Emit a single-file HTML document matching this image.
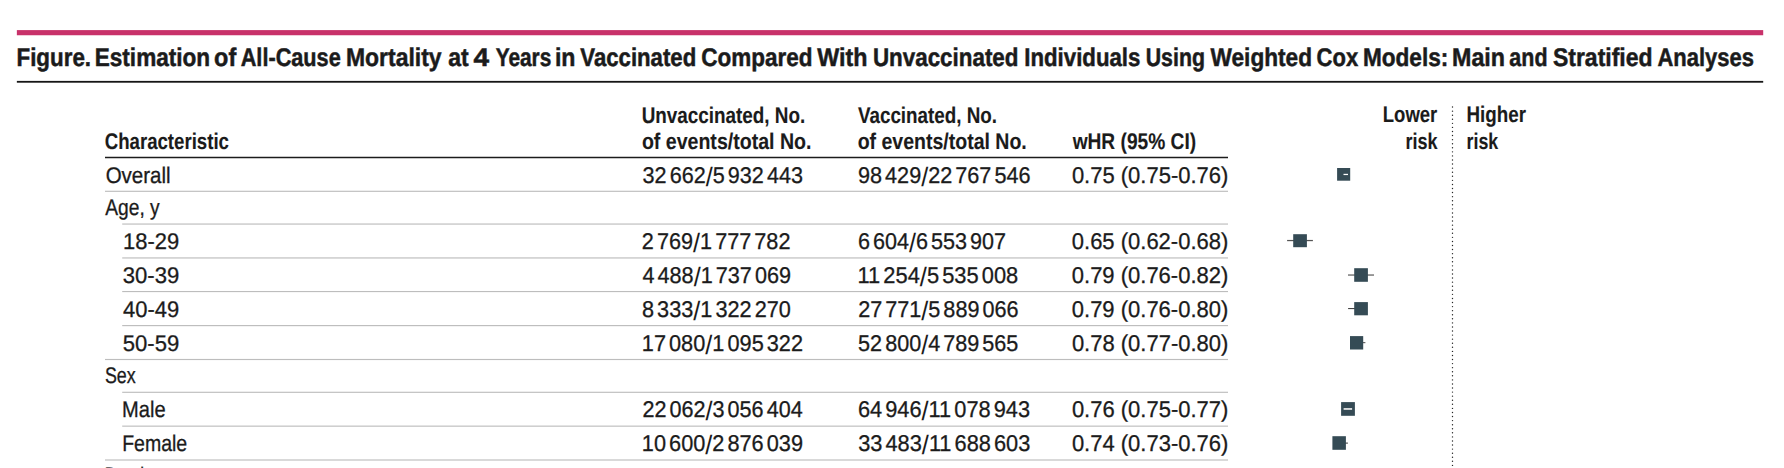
<!DOCTYPE html>
<html lang="en"><head><meta charset="utf-8"><title>Figure</title>
<style>
html,body{margin:0;padding:0;background:#fff}
body{width:1784px;height:468px;overflow:hidden}
svg{display:block}
text{font-family:"Liberation Sans",Arial,Helvetica,sans-serif;fill:#1b1b1b;white-space:pre;text-rendering:geometricPrecision}
.b{font-weight:bold;stroke:#1b1b1b;stroke-width:0.5px}
.r{stroke:#1b1b1b;stroke-width:0.3px}
.h{font-weight:bold;stroke:#1b1b1b;stroke-width:0.12px}
</style></head>
<body>
<svg width="1784" height="468" viewBox="0 0 1784 468">
<rect width="1784" height="468" fill="#fff"/>
<rect x="16.85" y="30.1" width="1746.35" height="5.15" fill="#c8316a"/>
<rect x="16.85" y="80.9" width="1746.35" height="1.8" fill="#161616"/>
<rect x="105" y="156.75" width="1123" height="1.5" fill="#1c1c1c"/>
<rect x="105" y="190.725" width="1123" height="1.15" fill="#bdbdbd"/>
<rect x="122.2" y="223.475" width="1105.8" height="1.15" fill="#bdbdbd"/>
<rect x="122.2" y="257.375" width="1105.8" height="1.15" fill="#bdbdbd"/>
<rect x="122.2" y="290.975" width="1105.8" height="1.15" fill="#bdbdbd"/>
<rect x="122.2" y="325.025" width="1105.8" height="1.15" fill="#bdbdbd"/>
<rect x="105" y="358.925" width="1123" height="1.15" fill="#bdbdbd"/>
<rect x="122.2" y="391.725" width="1105.8" height="1.15" fill="#bdbdbd"/>
<rect x="122.2" y="425.575" width="1105.8" height="1.15" fill="#bdbdbd"/>
<rect x="105" y="459.425" width="1123" height="1.15" fill="#bdbdbd"/>
<line x1="1452.5" y1="107.05" x2="1452.5" y2="470" stroke="#262626" stroke-width="1.4" stroke-linecap="round" stroke-dasharray="0.01 4.062"/>
<rect x="1337.1" y="168" width="13.1" height="12.7" fill="#354b55"/>
<rect x="1343.5" y="173.825" width="4.5" height="1.25" fill="#fff"/>
<rect x="1287.1" y="239.925" width="25.8" height="1.25" fill="#555"/>
<rect x="1293.2" y="234.2" width="13.7" height="13" fill="#354b55"/>
<rect x="1348" y="274.2" width="26" height="1.7" fill="#8a8a8a"/>
<rect x="1354.2" y="268.2" width="13.7" height="13.6" fill="#354b55"/>
<rect x="1348.1" y="308" width="7.9" height="1.1" fill="#444"/>
<rect x="1354.2" y="302.1" width="13.7" height="13.2" fill="#354b55"/>
<rect x="1362" y="342" width="3.4" height="1.2" fill="#666"/>
<rect x="1350" y="336.1" width="13.2" height="13.4" fill="#354b55"/>
<rect x="1341.1" y="402.1" width="13.8" height="13.7" fill="#354b55"/>
<rect x="1343.6" y="408" width="8.5" height="1.9" fill="#d9dcdd"/>
<rect x="1345" y="442.4" width="2.9" height="1.5" fill="#777"/>
<rect x="1332.4" y="436.2" width="13.5" height="13.6" fill="#354b55"/>
<text class="b" x="16.50" y="66" font-size="25.5" textLength="74.54" lengthAdjust="spacingAndGlyphs">Figure.</text>
<text class="b" x="94.74" y="66" font-size="25.5" textLength="115.41" lengthAdjust="spacingAndGlyphs">Estimation</text>
<text class="b" x="214.08" y="66" font-size="25.5" textLength="22.12" lengthAdjust="spacingAndGlyphs">of</text>
<text class="b" x="240.71" y="66" font-size="25.5" textLength="100.03" lengthAdjust="spacingAndGlyphs">All-Cause</text>
<text class="b" x="345.97" y="66" font-size="25.5" textLength="95.56" lengthAdjust="spacingAndGlyphs">Mortality</text>
<text class="b" x="448.33" y="66" font-size="25.5" textLength="20.45" lengthAdjust="spacingAndGlyphs">at</text>
<text class="b" x="473.58" y="66" font-size="25.5" textLength="15.57" lengthAdjust="spacingAndGlyphs">4</text>
<text class="b" x="495.64" y="66" font-size="25.5" textLength="55.71" lengthAdjust="spacingAndGlyphs">Years</text>
<text class="b" x="554.89" y="66" font-size="25.5" textLength="20.55" lengthAdjust="spacingAndGlyphs">in</text>
<text class="b" x="580.35" y="66" font-size="25.5" textLength="115.86" lengthAdjust="spacingAndGlyphs">Vaccinated</text>
<text class="b" x="701.33" y="66" font-size="25.5" textLength="111.15" lengthAdjust="spacingAndGlyphs">Compared</text>
<text class="b" x="817.23" y="66" font-size="25.5" textLength="50.22" lengthAdjust="spacingAndGlyphs">With</text>
<text class="b" x="872.91" y="66" font-size="25.5" textLength="145.57" lengthAdjust="spacingAndGlyphs">Unvaccinated</text>
<text class="b" x="1024.26" y="66" font-size="25.5" textLength="116.15" lengthAdjust="spacingAndGlyphs">Individuals</text>
<text class="b" x="1145.72" y="66" font-size="25.5" textLength="59.21" lengthAdjust="spacingAndGlyphs">Using</text>
<text class="b" x="1210.58" y="66" font-size="25.5" textLength="101.41" lengthAdjust="spacingAndGlyphs">Weighted</text>
<text class="b" x="1316.60" y="66" font-size="25.5" textLength="41.56" lengthAdjust="spacingAndGlyphs">Cox</text>
<text class="b" x="1362.89" y="66" font-size="25.5" textLength="85.39" lengthAdjust="spacingAndGlyphs">Models:</text>
<text class="b" x="1452.04" y="66" font-size="25.5" textLength="53.00" lengthAdjust="spacingAndGlyphs">Main</text>
<text class="b" x="1509.37" y="66" font-size="25.5" textLength="38.14" lengthAdjust="spacingAndGlyphs">and</text>
<text class="b" x="1552.94" y="66" font-size="25.5" textLength="99.58" lengthAdjust="spacingAndGlyphs">Stratified</text>
<text class="b" x="1657.45" y="66" font-size="25.5" textLength="96.45" lengthAdjust="spacingAndGlyphs">Analyses</text>
<text id="h1" class="h" x="104.68" y="149.00" font-size="22.7" textLength="124.31" lengthAdjust="spacingAndGlyphs">Characteristic</text>
<text id="h2a" class="h" x="641.66" y="123.00" font-size="22.7" textLength="163.58" lengthAdjust="spacingAndGlyphs">Unvaccinated, No.</text>
<text id="h2b" class="h" x="641.92" y="149.00" font-size="22.7" textLength="169.50" lengthAdjust="spacingAndGlyphs">of events/total No.</text>
<text id="h3a" class="h" x="857.98" y="123.00" font-size="22.7" textLength="139.00" lengthAdjust="spacingAndGlyphs">Vaccinated, No.</text>
<text id="h3b" class="h" x="857.67" y="149.00" font-size="22.7" textLength="169.12" lengthAdjust="spacingAndGlyphs">of events/total No.</text>
<text id="h4" class="h" x="1072.64" y="149.00" font-size="22.7" textLength="123.53" lengthAdjust="spacingAndGlyphs">wHR (95% CI)</text>
<text id="lo1" class="h" x="1382.79" y="122.00" font-size="22.7" textLength="54.51" lengthAdjust="spacingAndGlyphs">Lower</text>
<text id="lo2" class="h" x="1405.49" y="149.00" font-size="22.7" textLength="32.00" lengthAdjust="spacingAndGlyphs">risk</text>
<text id="hi1" class="h" x="1466.49" y="122.00" font-size="22.7" textLength="59.48" lengthAdjust="spacingAndGlyphs">Higher</text>
<text id="hi2" class="h" x="1466.62" y="149.00" font-size="22.7" textLength="31.61" lengthAdjust="spacingAndGlyphs">risk</text>
<text id="r0a" class="r" x="105.66" y="183.00" font-size="22.6" textLength="65.00" lengthAdjust="spacingAndGlyphs">Overall</text>
<text id="r0b" class="r" x="642.62" y="183.00" font-size="22.8" textLength="160.31" lengthAdjust="spacingAndGlyphs">32<tspan font-size="11.5"> </tspan>662<tspan font-size="26.5" dy="2.7" stroke-width="0">/</tspan><tspan dy="-2.7">5<tspan font-size="11.5"> </tspan>932<tspan font-size="11.5"> </tspan>443</tspan></text>
<text id="r0c" class="r" x="858.00" y="183.00" font-size="22.8" textLength="172.53" lengthAdjust="spacingAndGlyphs">98<tspan font-size="11.5"> </tspan>429<tspan font-size="26.5" dy="2.7" stroke-width="0">/</tspan><tspan dy="-2.7">22<tspan font-size="11.5"> </tspan>767<tspan font-size="11.5"> </tspan>546</tspan></text>
<text id="r0d" class="r" x="1071.88" y="183.00" font-size="22.8" textLength="156.44" lengthAdjust="spacingAndGlyphs">0.75 (0.75-0.76)</text>
<text id="r1a" class="r" x="105.28" y="215.00" font-size="22.6" textLength="54.43" lengthAdjust="spacingAndGlyphs">Age, y</text>
<text id="r2a" class="r" x="123.04" y="249.00" font-size="22.6" textLength="56.10" lengthAdjust="spacingAndGlyphs">18-29</text>
<text id="r2b" class="r" x="641.87" y="249.00" font-size="22.8" textLength="148.58" lengthAdjust="spacingAndGlyphs">2<tspan font-size="11.5"> </tspan>769<tspan font-size="26.5" dy="2.7" stroke-width="0">/</tspan><tspan dy="-2.7">1<tspan font-size="11.5"> </tspan>777<tspan font-size="11.5"> </tspan>782</tspan></text>
<text id="r2c" class="r" x="857.97" y="249.00" font-size="22.8" textLength="148.11" lengthAdjust="spacingAndGlyphs">6<tspan font-size="11.5"> </tspan>604<tspan font-size="26.5" dy="2.7" stroke-width="0">/</tspan><tspan dy="-2.7">6<tspan font-size="11.5"> </tspan>553<tspan font-size="11.5"> </tspan>907</tspan></text>
<text id="r2d" class="r" x="1071.81" y="249.00" font-size="22.8" textLength="156.50" lengthAdjust="spacingAndGlyphs">0.65 (0.62-0.68)</text>
<text id="r3a" class="r" x="122.78" y="283.00" font-size="22.6" textLength="56.52" lengthAdjust="spacingAndGlyphs">30-39</text>
<text id="r3b" class="r" x="642.49" y="283.00" font-size="22.8" textLength="148.50" lengthAdjust="spacingAndGlyphs">4<tspan font-size="11.5"> </tspan>488<tspan font-size="26.5" dy="2.7" stroke-width="0">/</tspan><tspan dy="-2.7">1<tspan font-size="11.5"> </tspan>737<tspan font-size="11.5"> </tspan>069</tspan></text>
<text id="r3c" class="r" x="857.54" y="283.00" font-size="22.8" textLength="160.69" lengthAdjust="spacingAndGlyphs">11<tspan font-size="11.5"> </tspan>254<tspan font-size="26.5" dy="2.7" stroke-width="0">/</tspan><tspan dy="-2.7">5<tspan font-size="11.5"> </tspan>535<tspan font-size="11.5"> </tspan>008</tspan></text>
<text id="r3d" class="r" x="1071.81" y="283.00" font-size="22.8" textLength="156.50" lengthAdjust="spacingAndGlyphs">0.79 (0.76-0.82)</text>
<text id="r4a" class="r" x="123.11" y="317.00" font-size="22.6" textLength="56.18" lengthAdjust="spacingAndGlyphs">40-49</text>
<text id="r4b" class="r" x="642.01" y="317.00" font-size="22.8" textLength="148.79" lengthAdjust="spacingAndGlyphs">8<tspan font-size="11.5"> </tspan>333<tspan font-size="26.5" dy="2.7" stroke-width="0">/</tspan><tspan dy="-2.7">1<tspan font-size="11.5"> </tspan>322<tspan font-size="11.5"> </tspan>270</tspan></text>
<text id="r4c" class="r" x="858.15" y="317.00" font-size="22.8" textLength="160.40" lengthAdjust="spacingAndGlyphs">27<tspan font-size="11.5"> </tspan>771<tspan font-size="26.5" dy="2.7" stroke-width="0">/</tspan><tspan dy="-2.7">5<tspan font-size="11.5"> </tspan>889<tspan font-size="11.5"> </tspan>066</tspan></text>
<text id="r4d" class="r" x="1071.81" y="317.00" font-size="22.8" textLength="156.50" lengthAdjust="spacingAndGlyphs">0.79 (0.76-0.80)</text>
<text id="r5a" class="r" x="122.81" y="351.00" font-size="22.6" textLength="56.44" lengthAdjust="spacingAndGlyphs">50-59</text>
<text id="r5b" class="r" x="641.82" y="351.00" font-size="22.8" textLength="161.22" lengthAdjust="spacingAndGlyphs">17<tspan font-size="11.5"> </tspan>080<tspan font-size="26.5" dy="2.7" stroke-width="0">/</tspan><tspan dy="-2.7">1<tspan font-size="11.5"> </tspan>095<tspan font-size="11.5"> </tspan>322</tspan></text>
<text id="r5c" class="r" x="858.11" y="351.00" font-size="22.8" textLength="160.18" lengthAdjust="spacingAndGlyphs">52<tspan font-size="11.5"> </tspan>800<tspan font-size="26.5" dy="2.7" stroke-width="0">/</tspan><tspan dy="-2.7">4<tspan font-size="11.5"> </tspan>789<tspan font-size="11.5"> </tspan>565</tspan></text>
<text id="r5d" class="r" x="1071.88" y="351.00" font-size="22.8" textLength="156.44" lengthAdjust="spacingAndGlyphs">0.78 (0.77-0.80)</text>
<text id="r6a" class="r" x="104.88" y="383.00" font-size="22.6" textLength="30.77" lengthAdjust="spacingAndGlyphs">Sex</text>
<text id="r7a" class="r" x="122.11" y="417.00" font-size="22.6" textLength="43.51" lengthAdjust="spacingAndGlyphs">Male</text>
<text id="r7b" class="r" x="642.47" y="417.00" font-size="22.8" textLength="160.23" lengthAdjust="spacingAndGlyphs">22<tspan font-size="11.5"> </tspan>062<tspan font-size="26.5" dy="2.7" stroke-width="0">/</tspan><tspan dy="-2.7">3<tspan font-size="11.5"> </tspan>056<tspan font-size="11.5"> </tspan>404</tspan></text>
<text id="r7c" class="r" x="857.94" y="417.00" font-size="22.8" textLength="172.12" lengthAdjust="spacingAndGlyphs">64<tspan font-size="11.5"> </tspan>946<tspan font-size="26.5" dy="2.7" stroke-width="0">/</tspan><tspan dy="-2.7">11<tspan font-size="11.5"> </tspan>078<tspan font-size="11.5"> </tspan>943</tspan></text>
<text id="r7d" class="r" x="1071.88" y="417.00" font-size="22.8" textLength="156.44" lengthAdjust="spacingAndGlyphs">0.76 (0.75-0.77)</text>
<text id="r8a" class="r" x="122.18" y="451.00" font-size="22.6" textLength="65.02" lengthAdjust="spacingAndGlyphs">Female</text>
<text id="r8b" class="r" x="641.84" y="451.00" font-size="22.8" textLength="161.16" lengthAdjust="spacingAndGlyphs">10<tspan font-size="11.5"> </tspan>600<tspan font-size="26.5" dy="2.7" stroke-width="0">/</tspan><tspan dy="-2.7">2<tspan font-size="11.5"> </tspan>876<tspan font-size="11.5"> </tspan>039</tspan></text>
<text id="r8c" class="r" x="858.19" y="451.00" font-size="22.8" textLength="172.14" lengthAdjust="spacingAndGlyphs">33<tspan font-size="11.5"> </tspan>483<tspan font-size="26.5" dy="2.7" stroke-width="0">/</tspan><tspan dy="-2.7">11<tspan font-size="11.5"> </tspan>688<tspan font-size="11.5"> </tspan>603</tspan></text>
<text id="r8d" class="r" x="1071.88" y="451.00" font-size="22.8" textLength="156.44" lengthAdjust="spacingAndGlyphs">0.74 (0.73-0.76)</text>
<text id="nx" class="r" x="104.8" y="483" font-size="22.6" textLength="94.5" lengthAdjust="spacingAndGlyphs">Death cause</text>
</svg>
</body></html>
